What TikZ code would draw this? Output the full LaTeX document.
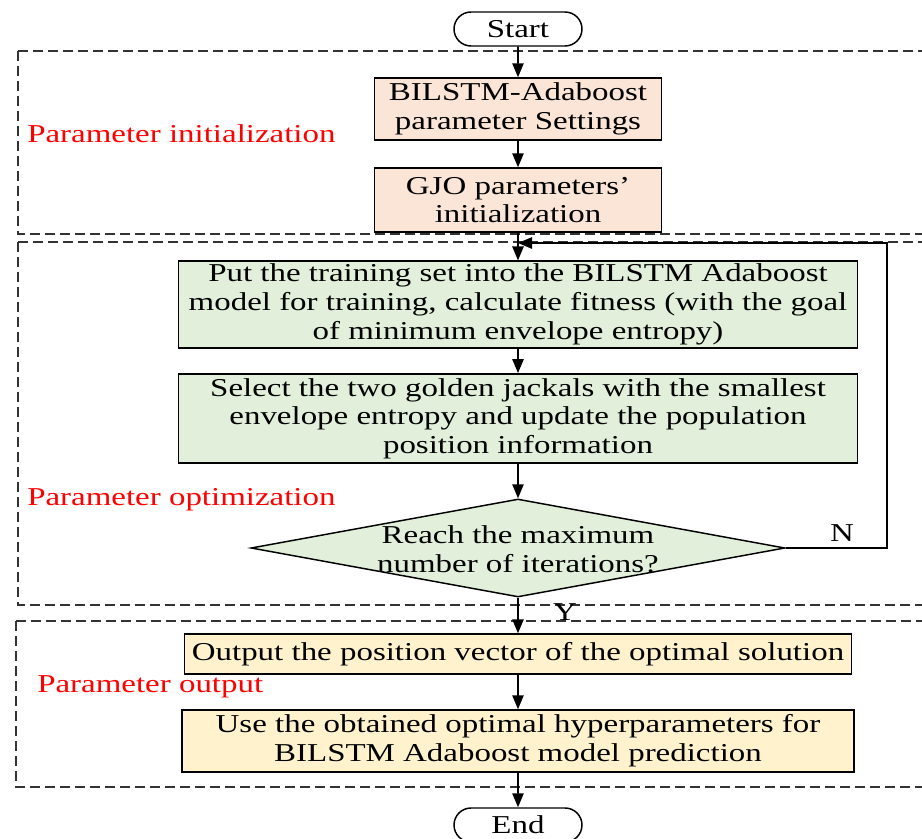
\documentclass[tikz,border=0pt]{standalone}
\usepackage{fontspec}
\setmainfont{Liberation Serif}[FakeStretch=1.28]
\usetikzlibrary{shapes.geometric,shapes.misc,arrows.meta}
\definecolor{peach}{HTML}{FBE5D6}
\definecolor{lgreen}{HTML}{E2EFDA}
\definecolor{lyellow}{HTML}{FFF2CC}
\definecolor{sred}{HTML}{FF0000}
\begin{document}
\begin{tikzpicture}[x=0.75pt,y=-0.75pt,
  every node/.style={font=\fontsize{19.3pt}{21.5pt}\selectfont},
  proc/.style={draw=black,line width=1.1pt,align=center,inner sep=2pt},
  term/.style={draw=black,line width=1.1pt,rounded rectangle,minimum width=96pt,minimum height=25.5pt,inner sep=0pt},
  zone/.style={draw=black!80,line width=1pt,dash pattern=on 7.5pt off 3.75pt},
  flow/.style={line width=1.2pt,-{Triangle[length=10.5pt,width=8.5pt]}},
  zlabel/.style={text=sred,anchor=west,inner sep=0pt}]
\useasboundingbox (0,0) rectangle (922,839);
% zones
\draw[zone] (18,51) rectangle (935,234);
\draw[zone] (18,242) rectangle (935,605);
\draw[zone] (16,621) rectangle (935,787);
% nodes
\node[term] (start) at (518,29) {Start};
\node[proc,fill=peach,minimum width=215pt,minimum height=46.5pt] (b1) at (518,109) {BILSTM-Adaboost\\parameter Settings};
\node[proc,fill=peach,minimum width=215pt,minimum height=48pt] (b2) at (518,200) {GJO parameters’\\initialization};
\node[proc,fill=lgreen,minimum width=509pt,minimum height=65pt] (b3) at (518,304.5) {Put the training set into the BILSTM Adaboost\\model for training, calculate fitness (with the goal\\of minimum envelope entropy)};
\node[proc,fill=lgreen,minimum width=509pt,minimum height=67pt] (b4) at (518,418.5) {Select the two golden jackals with the smallest\\envelope entropy and update the population\\position information};
\node[diamond,draw=black,line width=1.1pt,fill=lgreen,minimum width=400.5pt,minimum height=73.5pt,aspect=5.45,inner sep=0pt] (dia) at (518,548) {};
\node[align=center,inner sep=0pt] (dtext) at (518,549) {Reach the maximum\\number of iterations?};
\node[proc,fill=lyellow,minimum width=500pt,minimum height=30pt] (b5) at (518,654) {Output the position vector of the optimal solution};
\node[proc,fill=lyellow,minimum width=504pt,minimum height=46.5pt] (b6) at (518,741) {Use the obtained optimal hyperparameters for\\BILSTM Adaboost model prediction};
\node[term] (end) at (518,825) {End};
\node (ylab) at (565,612) {Y};
\node (nlab) at (842,533) {N};
\node[zlabel] (z1) at (27,134) {Parameter initialization};
\node[zlabel] (z2) at (27,500) {Parameter optimization};
\node[zlabel] (z3) at (37,687) {Parameter output};
\coordinate (lp) at (518,243);
% connectors
\draw[flow] (start) -- (b1);
\draw[flow] (b1) -- (b2);
\draw[flow] (b2) -- (b3);
\draw[flow] (b3) -- (b4);
\draw[flow] (b4) -- (dia);
\draw[flow] (dia) -- (b5);
\draw[flow] (b5) -- (b6);
\draw[flow] (b6) -- (end);
\draw[flow] (dia.east) -- ++(101,0) |- (lp);
\end{tikzpicture}
\end{document}
